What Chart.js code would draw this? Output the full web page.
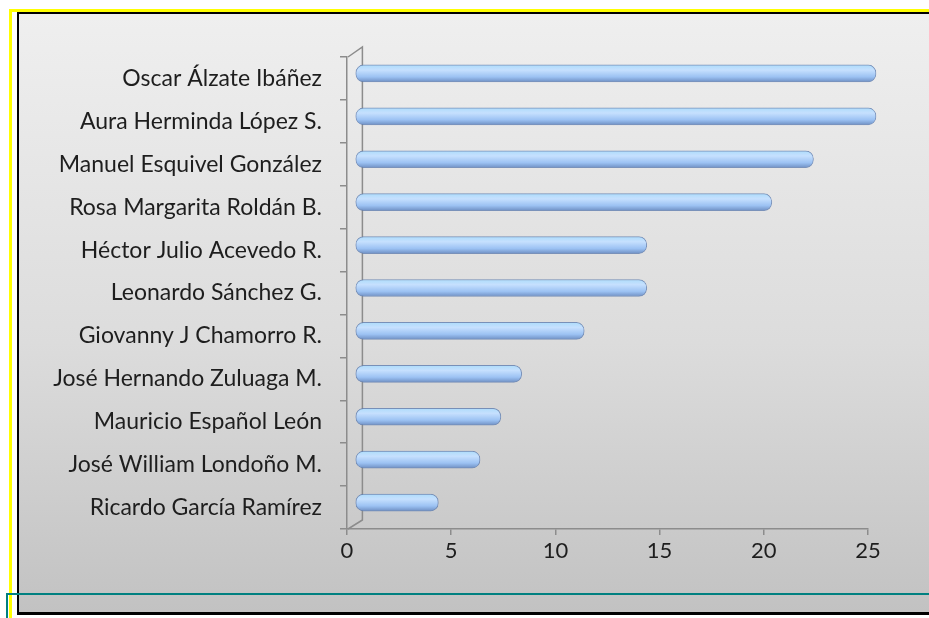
<!DOCTYPE html>
<html lang="es">
<head>
  <meta charset="UTF-8">
  <title>Participantes</title>
  <style>
    html, body {
      margin: 0;
      padding: 0;
      width: 929px;
      height: 618px;
      overflow: hidden;
      background: #fff;
    }
    #yellow {
      position: absolute;
      left: 9px; top: 9px; width: 940px; height: 640px;
      border-left: 3px solid #ffff00;
      border-top: 3px solid #ffff00;
    }
    #panel {
      position: absolute;
      left: 17px; top: 12px; width: 930px; height: 598px;
      border-left: 2px solid #000;
      border-top: 2px solid #000;
      border-bottom: 3px solid #000;
      background: linear-gradient(to bottom, #efefef 0%, #dcdcdc 55%, #c2c2c2 100%);
    }
    #teal {
      position: absolute;
      left: 6px; top: 593px; width: 940px; height: 40px;
      border-left: 2px solid #008080;
      border-top: 2px solid #008080;
    }
    #chart-container {
      position: absolute;
      left: 0; top: 0;
      width: 929px; height: 618px;
    }
  </style>
  <script src="https://cdn.jsdelivr.net/npm/chart.js"></script>
</head>
<body>
  <div id="yellow"></div>
  <div id="panel"></div>
  <div id="teal"></div>
  <div id="chart-container">
    <canvas id="barChart"></canvas>
  </div>

  <script>
    const nombres = [
      "Oscar Álzate Ibáñez",
      "Aura Herminda López S.",
      "Manuel Esquivel González",
      "Rosa Margarita Roldán B.",
      "Héctor Julio Acevedo R.",
      "Leonardo Sánchez G.",
      "Giovanny J Chamorro R.",
      "José Hernando Zuluaga M.",
      "Mauricio Español León",
      "José William Londoño M.",
      "Ricardo García Ramírez"
    ];
    const valores = [25, 25, 22, 20, 14, 14, 11, 8, 7, 6, 4];
    const ticksX = [0, 5, 10, 15, 20, 25];

    const DEPTH_X = 8;
    const DEPTH_Y = -5;
    const BAR_H = 17;

    // pared 3D y eje izquierdo
    const wall3d = {
      id: 'wall3d',
      beforeDatasetsDraw(chart) {
        const { ctx, chartArea: a } = chart;
        ctx.save();
        ctx.strokeStyle = '#8c8c8c';
        ctx.lineWidth = 1.5;
        ctx.beginPath();
        ctx.moveTo(a.left + 1, a.top);
        ctx.lineTo(a.left + 1 + DEPTH_X * 1.8, a.top - 10);
        ctx.lineTo(a.left + 1 + DEPTH_X * 1.8, a.bottom - 9);
        ctx.lineTo(a.left + 1, a.bottom);
        ctx.stroke();
        ctx.restore();
        ctx.save();
        ctx.translate(DEPTH_X, DEPTH_Y);
      },
      afterDatasetsDraw(chart) {
        chart.ctx.restore();
      }
    };

    const ctx = document.getElementById("barChart").getContext("2d");
    new Chart(ctx, {
      type: 'bar',
      data: {
        labels: nombres,
        datasets: [{
          data: valores,
          clip: false,
          barThickness: BAR_H,
          borderRadius: 8,
          borderSkipped: false,
          borderWidth: 1,
          borderColor: 'rgba(95,125,175,0.8)',
          backgroundColor: (c) => {
            const chart = c.chart;
            const y = chart.scales.y;
            if (!y || !chart.chartArea) return '#9fc2f4';
            const cy = y.getPixelForValue(c.dataIndex);
            const g = chart.ctx.createLinearGradient(0, cy - BAR_H / 2, 0, cy + BAR_H / 2);
            g.addColorStop(0, '#addcfb');
            g.addColorStop(0.3, '#c6e0fe');
            g.addColorStop(0.7, '#9cc2f3');
            g.addColorStop(1, '#6f90c4');
            return g;
          }
        }]
      },
      options: {
        indexAxis: 'y',
        responsive: true,
        maintainAspectRatio: false,
        animation: false,
        layout: {
          padding: { top: 57, right: 61, left: 0, bottom: 0 }
        },
        plugins: {
          legend: { display: false },
          tooltip: { enabled: false }
        },
        scales: {
          x: {
            min: 0,
            max: 25,
            afterFit: (s) => { s.height = 89; },
            afterBuildTicks: (s) => { s.ticks = ticksX.map(v => ({ value: v })); },
            grid: {
              drawOnChartArea: false,
              color: '#8c8c8c',
              tickLength: 6,
              lineWidth: 1.5
            },
            border: { color: '#8c8c8c', width: 1.5 },
            ticks: {
              color: '#1e1e1e',
              padding: 3,
              font: { family: 'Lato', size: 22 }
            }
          },
          y: {
            afterFit: (s) => { s.width = 347; },
            grid: {
              drawOnChartArea: false,
              offset: true,
              color: '#8c8c8c',
              tickLength: 7,
              lineWidth: 1.5
            },
            border: { color: '#8c8c8c', width: 1.5 },
            ticks: {
              color: '#1e1e1e',
              padding: 18,
              font: { family: 'Lato', size: 23 }
            }
          }
        }
      },
      plugins: [wall3d]
    });
  </script>
</body>
</html>
